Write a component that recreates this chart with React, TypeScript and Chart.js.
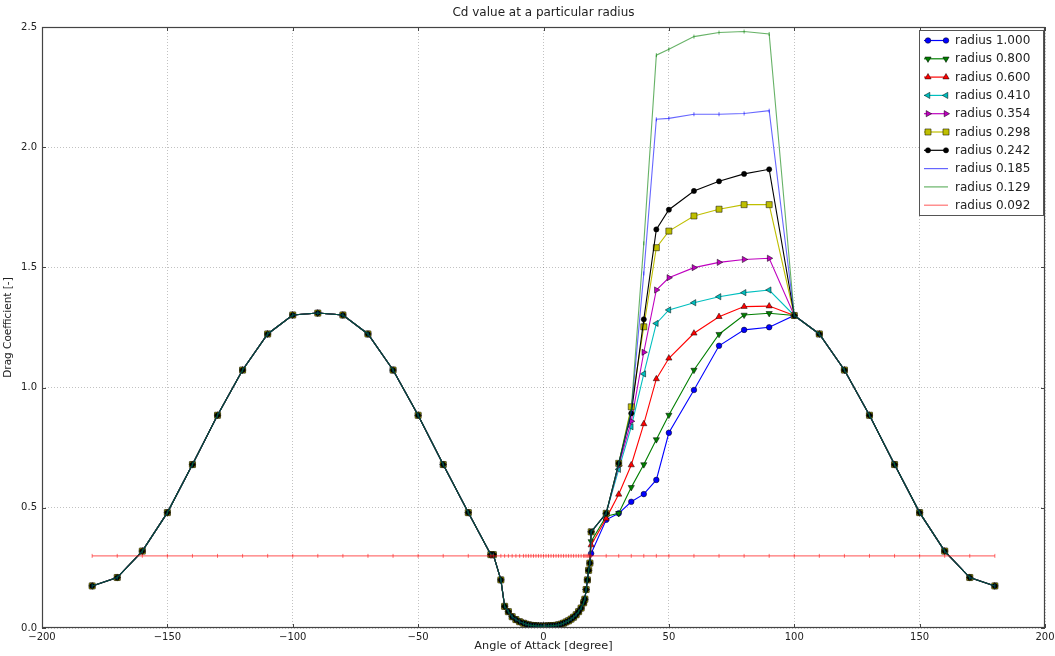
import React, { useEffect, useRef } from 'react';
import { Chart, registerables } from 'chart.js';

Chart.register(...registerables);

// ---- data ----
const anglesLeft = [
  -180, -170, -160, -150, -140, -130, -120, -110, -100, -90, -80, -70, -60, -50, -40, -30,
  -21, -20, -17, -15.5, -14, -12.5, -11, -9.5, -8, -7, -6, -5, -4, -3, -2, -1,
  0, 1, 2, 3, 4, 5, 6, 7, 8, 9, 10, 11, 12, 13, 14, 15, 16,
  16.5, 17, 17.5, 18, 18.5,
];
const cdLeft = [
  0.175, 0.21, 0.32, 0.48, 0.68, 0.885, 1.073, 1.223, 1.302, 1.31, 1.302, 1.223, 1.073, 0.885, 0.68, 0.48,
  0.305, 0.305, 0.2, 0.09, 0.068, 0.047, 0.035, 0.026, 0.02, 0.016, 0.013, 0.011, 0.01, 0.009, 0.008, 0.008,
  0.008, 0.008, 0.009, 0.009, 0.01, 0.011, 0.013, 0.016, 0.02, 0.025, 0.03, 0.037, 0.045, 0.055, 0.068, 0.083, 0.105,
  0.12, 0.16, 0.2, 0.24, 0.27,
];
const anglesRight = [19, 25, 30, 35, 40, 45, 50, 60, 70, 80, 90, 100];
const cdR1000 = [0.31, 0.45, 0.477, 0.525, 0.557, 0.616, 0.812, 0.99, 1.174, 1.24, 1.251, 1.3];
const cdR0800 = [0.36, 0.465, 0.477, 0.585, 0.68, 0.784, 0.886, 1.073, 1.222, 1.302, 1.309, 1.3];
const cdR0600 = [0.345, 0.456, 0.556, 0.678, 0.849, 1.036, 1.122, 1.226, 1.295, 1.337, 1.339, 1.3];
const cdR0410 = [0.4, 0.477, 0.66, 0.837, 1.057, 1.267, 1.323, 1.353, 1.378, 1.395, 1.406, 1.3];
const cdR0354 = [0.4, 0.477, 0.675, 0.86, 1.147, 1.406, 1.457, 1.499, 1.521, 1.533, 1.538, 1.3];
const cdR0298 = [0.4, 0.477, 0.685, 0.92, 1.253, 1.582, 1.651, 1.714, 1.742, 1.761, 1.761, 1.3];
const cdR0242 = [0.4, 0.477, 0.685, 0.893, 1.284, 1.658, 1.74, 1.818, 1.858, 1.889, 1.908, 1.3];
const cdR0185 = [0.4, 0.477, 0.685, 0.9, 1.475, 2.116, 2.12, 2.137, 2.137, 2.14, 2.152, 1.3];
const cdR0129 = [0.4, 0.477, 0.685, 0.91, 1.6, 2.383, 2.407, 2.46, 2.477, 2.481, 2.471, 1.3];
const anglesTail = [110, 120, 130, 140, 150, 160, 170, 180];
const cdTail = [1.223, 1.073, 0.885, 0.68, 0.48, 0.32, 0.21, 0.175];
const cdFlat092 = 0.3;

const radiusLabels = [
  'radius 1.000', 'radius 0.800', 'radius 0.600', 'radius 0.410', 'radius 0.354',
  'radius 0.298', 'radius 0.242', 'radius 0.185', 'radius 0.129', 'radius 0.092',
];
const rightSeries = [cdR1000, cdR0800, cdR0600, cdR0410, cdR0354, cdR0298, cdR0242, cdR0185, cdR0129];

const xTickValues = [-200, -150, -100, -50, 0, 50, 100, 150, 200];
const yTickValues = [0, 0.5, 1.0, 1.5, 2.0, 2.5];

const chartTitle = 'Cd value at a particular radius';
const xTitle = 'Angle of Attack [degree]';
const yTitle = 'Drag Coefficient [-]';

// ---- styles ----
type Style = { line: string; fill: string; marker: string; rot: number; r: number };
const seriesStyles: Style[] = [
  { line: '#0000ff', fill: '#0000ff', marker: 'circle', rot: 0, r: 2.8 },
  { line: '#007f00', fill: '#007f00', marker: 'triangle', rot: 180, r: 3.6 },
  { line: '#ff0000', fill: '#ff0000', marker: 'triangle', rot: 0, r: 3.6 },
  { line: '#00bfbf', fill: '#00bfbf', marker: 'triangle', rot: 270, r: 3.6 },
  { line: '#bf00bf', fill: '#bf00bf', marker: 'triangle', rot: 90, r: 3.6 },
  { line: '#bfbf00', fill: '#bfbf00', marker: 'rect', rot: 0, r: 4.3 },
  { line: '#000000', fill: '#000000', marker: 'circle', rot: 0, r: 2.6 },
  { line: 'rgba(0,0,255,0.6)', fill: 'rgba(0,0,255,0.6)', marker: 'line', rot: 90, r: 2 },
  { line: 'rgba(0,127,0,0.6)', fill: 'rgba(0,127,0,0.6)', marker: 'line', rot: 90, r: 2 },
  { line: 'rgba(255,0,0,0.55)', fill: 'rgba(255,0,0,0.55)', marker: 'line', rot: 90, r: 2 },
];

const FONT = "'DejaVu Sans', sans-serif";
const TEXT = '#222';

function drawMarker(ctx: CanvasRenderingContext2D, s: Style, x: number, y: number) {
  ctx.save();
  ctx.translate(x, y);
  ctx.rotate((s.rot * Math.PI) / 180);
  ctx.beginPath();
  if (s.marker === 'circle') {
    ctx.arc(0, 0, s.r, 0, Math.PI * 2);
  } else if (s.marker === 'triangle') {
    for (let k = 0; k < 3; k++) {
      const a = (k * 2 * Math.PI) / 3;
      const px = Math.sin(a) * s.r;
      const py = -Math.cos(a) * s.r;
      if (k === 0) ctx.moveTo(px, py);
      else ctx.lineTo(px, py);
    }
    ctx.closePath();
  } else if (s.marker === 'rect') {
    const h = s.r * Math.SQRT1_2;
    ctx.rect(-h, -h, 2 * h, 2 * h);
  }
  if (s.marker !== 'line') {
    ctx.fillStyle = s.fill;
    ctx.fill();
    ctx.lineWidth = 0.5;
    ctx.strokeStyle = '#000';
    ctx.stroke();
  }
  ctx.restore();
}

const framePlugin = {
  id: 'frameAndLegend',
  afterDraw(chart: any) {
    const { ctx, chartArea: ca, scales } = chart;
    ctx.save();
    ctx.strokeStyle = '#444';
    ctx.lineWidth = 1;
    // inward ticks
    ctx.beginPath();
    xTickValues.forEach((v) => {
      const px = Math.round(scales.x.getPixelForValue(v)) + 0.5;
      ctx.moveTo(px, ca.bottom);
      ctx.lineTo(px, ca.bottom - 4);
      ctx.moveTo(px, ca.top);
      ctx.lineTo(px, ca.top + 4);
    });
    yTickValues.forEach((v) => {
      const py = Math.round(scales.y.getPixelForValue(v)) + 0.5;
      ctx.moveTo(ca.left, py);
      ctx.lineTo(ca.left + 4, py);
      ctx.moveTo(ca.right, py);
      ctx.lineTo(ca.right - 4, py);
    });
    ctx.stroke();
    ctx.lineWidth = 1.2;
    ctx.strokeRect(ca.left + 0.5, ca.top + 0.5, ca.right - ca.left - 1, ca.bottom - ca.top - 1);

    // legend
    const lw = 124;
    const lh = 185;
    const lx = Math.round(ca.right - 2 - lw);
    const ly = Math.round(ca.top + 3);
    ctx.fillStyle = '#fff';
    ctx.fillRect(lx, ly, lw, lh);
    ctx.lineWidth = 1;
    ctx.strokeStyle = '#555';
    ctx.strokeRect(lx + 0.5, ly + 0.5, lw, lh);
    ctx.font = `12px ${FONT}`;
    ctx.textBaseline = 'middle';
    ctx.textAlign = 'left';
    seriesStyles.forEach((s, i) => {
      const cy = ly + 10.5 + i * 18.3;
      const x0 = lx + 5;
      ctx.beginPath();
      ctx.strokeStyle = s.line;
      ctx.lineWidth = 1.2;
      ctx.moveTo(x0, cy);
      ctx.lineTo(x0 + 24, cy);
      ctx.stroke();
      drawMarker(ctx, s, x0 + 4, cy);
      drawMarker(ctx, s, x0 + 22, cy);
      ctx.fillStyle = TEXT;
      ctx.fillText(radiusLabels[i], x0 + 31, cy + 0.5);
    });
    ctx.restore();
  },
};

function buildDatasets() {
  const sets: any[] = rightSeries.map((vals, i) => {
    const s = seriesStyles[i];
    const data = [
      ...anglesLeft.map((x, j) => ({ x, y: cdLeft[j] })),
      ...anglesRight.map((x, j) => ({ x, y: vals[j] })),
      ...anglesTail.map((x, j) => ({ x, y: cdTail[j] })),
    ];
    return {
      label: radiusLabels[i],
      data,
      borderColor: s.line,
      backgroundColor: s.fill,
      borderWidth: 1.1,
      pointStyle: s.marker,
      pointRotation: s.rot,
      pointRadius: s.r,
      pointBorderColor: s.marker === 'line' ? s.line : '#000',
      pointBorderWidth: s.marker === 'line' ? 1 : 0.5,
      pointBackgroundColor: s.fill,
      tension: 0,
      fill: false,
      order: -i,
    };
  });
  const allAngles = [...anglesLeft, ...anglesRight, ...anglesTail];
  const s = seriesStyles[9];
  sets.push({
    label: radiusLabels[9],
    data: allAngles.map((x) => ({ x, y: cdFlat092 })),
    borderColor: s.line,
    backgroundColor: s.fill,
    borderWidth: 1.4,
    pointStyle: 'line',
    pointRotation: 90,
    pointRadius: s.r,
    pointBorderColor: s.line,
    pointBorderWidth: 1,
    tension: 0,
    fill: false,
    order: -9,
  });
  return sets;
}

export default function App() {
  const ref = useRef<HTMLCanvasElement | null>(null);
  useEffect(() => {
    if (!ref.current) return;
    const chart = new Chart(ref.current, {
      type: 'line',
      data: { datasets: buildDatasets() },
      plugins: [framePlugin],
      options: {
        animation: false,
        responsive: false,
        devicePixelRatio: 1,
        layout: { padding: { left: 0, right: 10, top: 0, bottom: 0 } },
        plugins: {
          legend: { display: false },
          tooltip: { enabled: false },
          title: {
            display: true,
            text: chartTitle,
            fullSize: false,
            color: TEXT,
            font: { family: FONT, size: 12, weight: 'normal' },
            padding: { top: 6, bottom: 6.6 },
          },
        },
        scales: {
          x: {
            type: 'linear',
            min: -200,
            max: 200,
            afterFit: (sc: any) => {
              sc.height = 28;
              sc.paddingLeft = 0;
              sc.paddingRight = 0;
            },
            afterBuildTicks: (sc: any) => { sc.ticks = xTickValues.map((v) => ({ value: v })); },
            ticks: {
              color: TEXT,
              font: { family: FONT, size: 10 },
              padding: 3,
              maxRotation: 0,
              callback: (v: any) => (Number(v) < 0 ? '\u2212' + Math.abs(Number(v)) : String(v)),
            },
            grid: { color: 'rgba(0,0,0,0.3)', lineWidth: 0.8, drawTicks: false },
            border: { display: false, dash: [1, 2] },
            title: {
              display: true,
              text: xTitle,
              color: TEXT,
              font: { family: FONT, size: 11.3 },
              padding: { top: 0, bottom: 3 },
            },
          },
          y: {
            type: 'linear',
            min: 0,
            max: 2.5,
            afterFit: (sc: any) => {
              sc.width = 42;
              sc.paddingTop = 0;
              sc.paddingBottom = 0;
            },
            afterBuildTicks: (sc: any) => { sc.ticks = yTickValues.map((v) => ({ value: v })); },
            ticks: {
              color: TEXT,
              font: { family: FONT, size: 10 },
              padding: 5,
              callback: (v: any) => Number(v).toFixed(1),
            },
            grid: { color: 'rgba(0,0,0,0.3)', lineWidth: 0.8, drawTicks: false },
            border: { display: false, dash: [1, 2] },
            title: {
              display: true,
              text: yTitle,
              color: TEXT,
              font: { family: FONT, size: 10.5 },
              padding: { top: 2, bottom: 3 },
            },
          },
        },
      } as any,
    });
    return () => chart.destroy();
  }, []);
  return (
    <div style={{ position: 'fixed', left: 0, top: 0, width: 1055, height: 656, background: '#fff' }}>
      <canvas ref={ref} width={1055} height={656} style={{ width: 1055, height: 656, display: 'block' }} />
    </div>
  );
}
